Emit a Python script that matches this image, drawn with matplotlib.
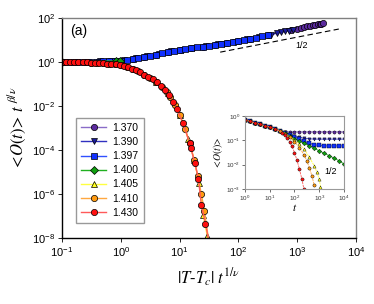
import numpy as np
import matplotlib
matplotlib.use('Agg')
import matplotlib.pyplot as plt
from matplotlib.ticker import FuncFormatter

plt.rcParams['font.family'] = ['Liberation Sans', 'DejaVu Sans']
plt.rcParams['mathtext.fontset'] = 'stix'

# temperatures, colours, markers
temps = ['1.370', '1.390', '1.397', '1.400', '1.405', '1.410', '1.430']
face = ['#5b2a9e', '#1c1c9c', '#1030ff', '#10a010', '#ffff20', '#ff9a10', '#ff1010']
linec = ['#8a6cc8', '#3030c0', '#3050ff', '#20b020', '#ffff40', '#ffa840', '#ff5a5a']
marks = ['o', 'v', 's', 'D', '^', 'o', 'o']

# main panel, values read as log10(x), log10(y)
p370_lx = [-1.0, -0.8, -0.6, -0.4, -0.2, 0.0, 0.2, 0.4, 0.6, 0.8, 1.0, 1.2, 1.4, 1.6, 1.8, 2.0,
           2.2, 2.5, 2.9, 3.0, 3.06, 3.12, 3.17, 3.22, 3.27, 3.31, 3.35, 3.38, 3.41, 3.44]
p370_ly = [0.00, 0.01, 0.01, 0.02, 0.04, 0.06, 0.15, 0.24, 0.34, 0.45, 0.54, 0.62, 0.70, 0.78, 0.86, 0.94,
           1.05, 1.22, 1.46, 1.52, 1.56, 1.59, 1.62, 1.65, 1.68, 1.70, 1.72, 1.74, 1.75, 1.77]

p390_lx = [-0.95, -0.75, -0.55, -0.35, -0.15, 0.05, 0.25, 0.45, 0.65, 0.85, 1.05, 1.25, 1.45,
           1.65, 1.75, 1.95, 2.15, 2.35, 2.55, 2.65, 2.72, 2.79, 2.86, 2.93]
p390_ly = [0.00, 0.01, 0.02, 0.03, 0.05, 0.08, 0.17, 0.27, 0.37, 0.48, 0.56, 0.64, 0.72,
           0.80, 0.84, 0.92, 1.03, 1.14, 1.25, 1.31, 1.35, 1.39, 1.43, 1.47]

p397_lx = [-1.0, -0.9, -0.8, -0.7, -0.6, -0.5, -0.4, -0.3, -0.2, -0.1, 0.0, 0.1, 0.2, 0.3, 0.4, 0.5,
           0.6, 0.7, 0.8, 0.9, 1.0, 1.1, 1.2, 1.3, 1.4, 1.5, 1.6, 1.7, 1.8, 1.9, 2.0, 2.1, 2.2, 2.3,
           2.4, 2.5]
p397_ly = [0.00, 0.00, 0.01, 0.01, 0.01, 0.02, 0.02, 0.03, 0.04, 0.05, 0.06, 0.10, 0.15, 0.19, 0.24, 0.29,
           0.34, 0.40, 0.45, 0.50, 0.54, 0.58, 0.62, 0.66, 0.70, 0.74, 0.78, 0.82, 0.86, 0.90, 0.94, 1.00,
           1.05, 1.11, 1.16, 1.22]

p400_lx = [-1.0, -0.08, -0.02]
p400_ly = [0.00, 0.05, 0.06]

p405_lx = [0.6, 0.8, 1.0, 1.15, 1.25, 1.33, 1.40, 1.47]
p405_ly = [-0.90, -1.42, -2.40, -3.50, -4.45, -5.50, -6.95, -7.90]

p410_lx = [-0.5, -0.4, -0.3, -0.2, -0.1, 0.0, 0.1, 0.2, 0.3, 0.4, 0.5, 0.6, 0.7, 0.78, 0.84, 0.92,
           1.0, 1.1, 1.17, 1.25, 1.31, 1.37, 1.42, 1.5]
p410_ly = [-0.03, -0.04, -0.06, -0.08, -0.11, -0.15, -0.22, -0.31, -0.43, -0.57, -0.72, -0.90, -1.12,
           -1.36, -1.60, -1.95, -2.40, -3.05, -3.70, -4.45, -5.20, -6.00, -6.75, -8.2]

p430_lx = [-1.0, -0.93, -0.86, -0.79, -0.72, -0.65, -0.58, -0.51, -0.44, -0.37, -0.3, -0.23, -0.16,
           -0.09, -0.02, 0.05, 0.12, 0.19, 0.26, 0.33, 0.4, 0.47, 0.54, 0.61, 0.68, 0.75, 0.82, 0.89,
           0.95, 1.06, 1.17, 1.19, 1.26, 1.32, 1.37, 1.44, 1.5]
p430_ly = [0.00, 0.00, 0.00, -0.01, -0.01, -0.01, -0.02, -0.03, -0.04, -0.05, -0.06, -0.07, -0.09,
           -0.11, -0.14, -0.18, -0.24, -0.30, -0.38, -0.47, -0.57, -0.67, -0.79, -0.92, -1.07, -1.26,
           -1.49, -1.80, -2.12, -2.78, -3.70, -3.90, -4.60, -5.30, -6.50, -7.35, -8.2]

main_lx = [p370_lx, p390_lx, p397_lx, p400_lx, p405_lx, p410_lx, p430_lx]
main_ly = [p370_ly, p390_ly, p397_ly, p400_ly, p405_ly, p410_ly, p430_ly]

guide_x = [49, 5100]
guide_y = [2.8, 31.5]

# inset, log10(t), log10(<O>)
early_lt = [0.0, 0.2, 0.4, 0.6, 0.8, 1.0, 1.2, 1.4]
early_ly = [-0.16, -0.22, -0.28, -0.34, -0.40, -0.46, -0.53, -0.60]
late_lt = [1.6, 1.8, 2.0, 2.2, 2.4, 2.6, 2.8, 3.0, 3.2, 3.4, 3.6, 3.8, 4.0]
i370_ly = [-0.64, -0.65, -0.65, -0.65, -0.65, -0.65, -0.65, -0.65, -0.65, -0.65, -0.65, -0.65, -0.65]
i390_ly = [-0.67, -0.74, -0.81, -0.87, -0.92, -0.94, -0.95, -0.95, -0.95, -0.95, -0.95, -0.95, -0.95]
i397_ly = [-0.68, -0.77, -0.86, -0.95, -1.04, -1.12, -1.18, -1.21, -1.23, -1.23, -1.23, -1.23, -1.23]
i400_ly = [-0.71, -0.82, -0.93, -1.03, -1.13, -1.23, -1.33, -1.43, -1.53, -1.63, -1.73, -1.84, -1.97]
i405_lt = [1.6, 1.8, 2.0, 2.2, 2.4, 2.6, 2.8, 2.9, 3.0, 3.05]
i405_ly = [-0.70, -0.83, -0.98, -1.15, -1.37, -1.70, -2.05, -2.30, -2.60, -2.90]
i410_lt = [1.6, 1.8, 2.0, 2.2, 2.4, 2.5, 2.6, 2.7, 2.8]
i410_ly = [-0.72, -0.87, -1.05, -1.30, -1.62, -1.85, -2.12, -2.45, -2.85]
i430_lt = [1.5, 1.6, 1.7, 1.8, 1.9, 2.0, 2.1, 2.2, 2.3, 2.38]
i430_ly = [-0.68, -0.77, -0.90, -1.05, -1.25, -1.50, -1.82, -2.18, -2.60, -3.0]


def pow10(v, pos):
    return r'$\mathregular{10^{%d}}$' % int(round(np.log10(v)))


fig = plt.figure(figsize=(3.74, 3.04), dpi=100)
ax = fig.add_axes([62/374, 1-238/304, 294/374, 220/304])

order = [0, 1, 2, 3, 4, 5, 6]
for i in order:
    ax.plot(10**np.array(main_lx[i]), 10**np.array(main_ly[i]), color=linec[i], lw=1.0,
            marker=marks[i], ms=4.5 if marks[i] != 'D' else 3.8, mfc=face[i], mec='black', mew=0.5,
            label=temps[i])

ax.plot(guide_x, guide_y, color='black', lw=0.8, ls=(0, (5, 3)))
ax.text(1200, 5.9, '1/2', fontsize=6.5, ha='center', va='center')
ax.text(0.14, 25, '(a)', fontsize=10, ha='left', va='center')

ax.set_xscale('log')
ax.set_yscale('log')
ax.set_xlim(0.1, 1e4)
ax.set_ylim(1e-8, 1e2)
ax.set_xticks([1e-1, 1e0, 1e1, 1e2, 1e3, 1e4])
ax.set_yticks([1e-8, 1e-6, 1e-4, 1e-2, 1e0, 1e2])
ax.minorticks_off()
ax.xaxis.set_major_formatter(FuncFormatter(pow10))
ax.yaxis.set_major_formatter(FuncFormatter(pow10))
ax.tick_params(labelsize=8, direction='out', length=3, width=0.6, pad=2)
for s in ['left', 'bottom']:
    ax.spines[s].set_linewidth(1.0)
for s in ['top', 'right']:
    ax.spines[s].set_color('#808080')
    ax.spines[s].set_linewidth(1.0)

ax.set_xlabel(r'$|T\text{-}T_c|\ t^{1/\nu}$', fontsize=12, labelpad=6)
ax.set_ylabel(r'$<\!O(t)\!>\,t^{\ \beta/\nu}$', fontsize=12, labelpad=2)

leg = ax.legend(loc='lower left', bbox_to_anchor=(0.048, 0.068), fontsize=7.5, frameon=True,
                fancybox=False, edgecolor='#999999', framealpha=1, handlelength=2.4,
                handletextpad=0.6, labelspacing=0.4, borderpad=0.5, borderaxespad=0)
leg.get_frame().set_linewidth(1.0)

ins = fig.add_axes([245/374, 1-189/304, 99/374, 73/304])
inset_lt = [early_lt + late_lt, early_lt + late_lt, early_lt + late_lt, early_lt + late_lt,
            early_lt + i405_lt, early_lt + i410_lt, early_lt[:-1] + i430_lt]
inset_ly = [early_ly + i370_ly, early_ly + i390_ly, early_ly + i397_ly, early_ly + i400_ly,
            early_ly + i405_ly, early_ly + i410_ly, early_ly[:-1] + i430_ly]
for i in order:
    ins.plot(10**np.array(inset_lt[i]), 10**np.array(inset_ly[i]), color=linec[i], lw=0.6,
             ls=(0, (3, 1)) if i >= 4 else '-', marker=marks[i], ms=2.3, mfc=face[i],
             mec='black', mew=0.3)
ins.text(3000, 10**-2.3, '1/2', fontsize=6.5, ha='center', va='center')
ins.set_xscale('log')
ins.set_yscale('log')
ins.set_xlim(1, 1e4)
ins.set_ylim(1e-3, 1)
ins.set_xticks([1, 1e1, 1e2, 1e3, 1e4])
ins.set_yticks([1e-3, 1e-2, 1e-1, 1])
ins.minorticks_off()
ins.xaxis.set_major_formatter(FuncFormatter(pow10))
ins.yaxis.set_major_formatter(FuncFormatter(pow10))
ins.tick_params(labelsize=4.5, length=2, width=0.5, pad=1.5, colors='#333333')
for s in ins.spines.values():
    s.set_color('#999999')
    s.set_linewidth(0.8)
ins.set_xlabel(r'$t$', fontsize=8, labelpad=-1)
ins.set_ylabel(r'$<\!O(t)\!>$', fontsize=7, labelpad=1)

fig.savefig('out.png', dpi=100)
